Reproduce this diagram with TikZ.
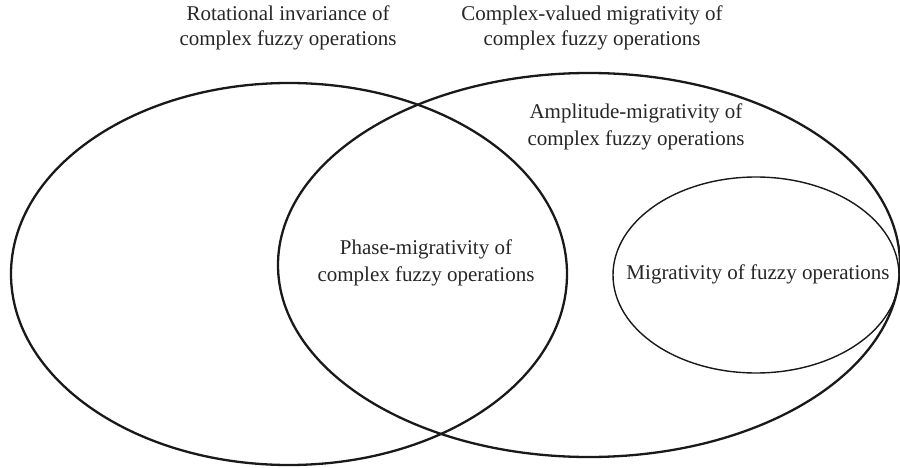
\documentclass[tikz,border=0pt]{standalone}
\usepackage{fontspec}
\setmainfont{Liberation Serif}
\begin{document}
\begin{tikzpicture}[x=1pt,y=-1pt,
  bigset/.style={draw=black!90,line width=2.3pt},
  smallset/.style={draw=black!90,line width=1.4pt},
  lbl/.style={align=center,font=\fontsize{21}{25.5}\selectfont,text=black!85,inner sep=0pt},
  inlbl/.style={align=center,font=\fontsize{21}{27}\selectfont,text=black!85,inner sep=0pt}]
\useasboundingbox (0,0) rectangle (900,468);
\begin{scope}
\clip (0,0) rectangle (900,468);
\draw[bigset] (289,274) ellipse [x radius=278, y radius=191];
\draw[bigset] (589,265) ellipse [x radius=311, y radius=192];
\draw[smallset] (756,275) ellipse [x radius=143, y radius=98];
\end{scope}
\node[lbl] (rot) at (288,28) {Rotational invariance of\\complex fuzzy operations};
\node[lbl] (cvm) at (592,28) {Complex-valued migrativity of\\complex fuzzy operations};
\node[inlbl] (amp) at (636,127) {Amplitude-migrativity of\\complex fuzzy operations};
\node[inlbl] (pha) at (426,263) {Phase-migrativity of\\complex fuzzy operations};
\node[inlbl] (mig) at (758,274) {Migrativity of fuzzy operations};
\end{tikzpicture}
\end{document}
